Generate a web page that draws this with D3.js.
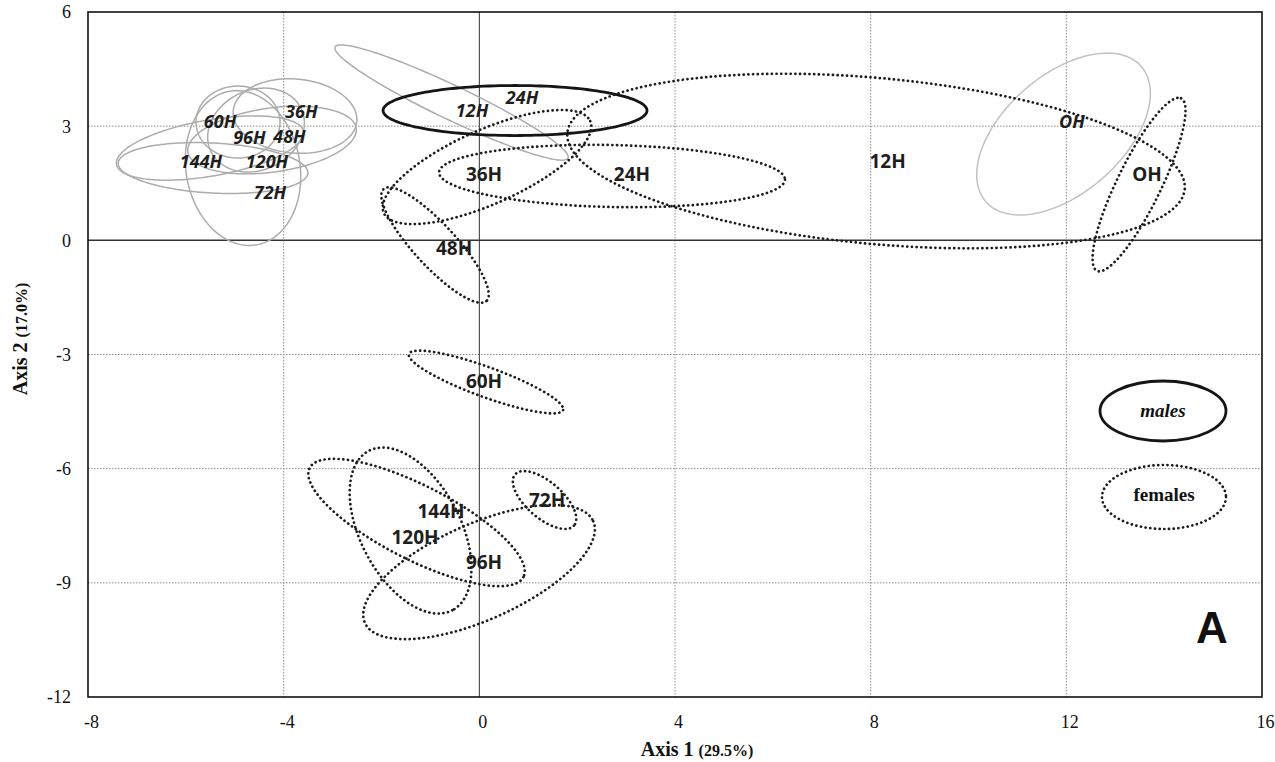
<!DOCTYPE html>
<html>
<head>
<meta charset="utf-8">
<script src="https://cdn.jsdelivr.net/npm/d3@7"></script>
<style>
  body { margin: 0; background: #fff; }
  svg { display: block; }
</style>
</head>
<body>
<svg id="chart" width="1275" height="762"></svg>
<script>
// ---- Axis ticks ----
const xTicks = [-8, -4, 0, 4, 8, 12, 16];
const yTicks = [6, 3, 0, -3, -6, -9, -12];

// ---- Female confidence ellipses (Axis 1 / Axis 2 units) ----
// each ellipse = centre + U*cos(t) + V*sin(t)
const femaleGroups = ["OH", "12H", "24H", "36H", "48H", "60H", "72H", "96H", "120H", "144H"];
const femaleCx = [13.486, 8.110, 2.713, 0.157, -0.906, 0.137, 1.333, -0.006, -1.406, -1.284];
const femaleCy = [1.466, 2.084, 1.690, 1.926, -0.124, -3.723, -6.824, -8.716, -7.626, -7.415];
const femaleU = [[0.860, 2.267], [6.311, -0.738], [3.536, -0.095], [2.110, 1.208], [1.052, -1.470],
                 [1.575, -0.737], [0.602, -0.672], [2.334, 1.336], [0.855, -2.094], [2.186, -1.432]];
const femaleV = [[0.404, -0.253], [-0.154, -2.172], [-0.013, -0.814], [0.308, -0.888], [-0.316, -0.374],
                 [-0.105, -0.370], [-0.241, -0.357], [0.399, -1.152], [-0.905, -0.611], [-0.343, -0.866]];
// label anchor points
const femaleLabelX = [13.649, 8.345, 3.121, 0.096, -0.517, 0.096, 1.384, 0.096, -1.315, -0.783];
const femaleLabelY = [1.742, 2.084, 1.742, 1.742, -0.202, -3.697, -6.824, -8.453, -7.796, -7.113];

// ---- Male confidence ellipses ----
const maleGroups = ["OH", "12H", "24H", "36H", "48H", "60H", "96H", "144H", "120H", "72H"];
const maleCx = [11.943, -0.568, 0.730, -3.768, -4.238, -4.933, -4.565, -5.505, -5.444, -4.831];
const maleCy = [2.793, 3.621, 3.411, 3.266, 2.636, 3.109, 2.898, 2.425, 1.900, 1.900];
const maleU = [[1.589, 1.776], [2.380, -1.459], [2.698, 0], [1.263, -0.142], [1.721, 0.311],
               [0.859, 0], [0.926, 0.555], [1.913, 0.433], [1.939, -0.131], [0.277, -2.018]];
const maleV = [[0.791, -1.170], [-0.150, -0.403], [0, -0.657], [-0.066, -0.969], [0.091, -0.833],
               [0, -0.946], [0.346, -0.953], [0.099, -0.725], [-0.027, -0.656], [-1.147, -0.260]];
// the highlighted male group (drawn solid black)
const maleHighlight = ["24H"];
const maleLabelX = [12.116, -0.149, 0.873, -3.639, -3.881, -5.300, -4.700, -5.689, -4.340, -4.279];
const maleLabelY = [3.109, 3.424, 3.765, 3.397, 2.739, 3.110, 2.700, 2.084, 2.084, 1.269];

// ---- Layout ----
const svg = d3.select("#chart");
const plotL = 88, plotT = 12, plotR = 1262, plotB = 697;

const x = d3.scaleLinear().domain([-8, 16]).range([plotL, plotR]);
const y = d3.scaleLinear().domain([-12, 6]).range([plotB, plotT]);

const serif = "'Liberation Serif', 'Times New Roman', serif";
const sans = "'Noto Sans', 'DejaVu Sans', sans-serif";

// grid lines (dotted)
const grid = svg.append("g");
grid.selectAll("line.gx")
  .data(xTicks.filter(d => d !== 0 && d !== -8 && d !== 16))
  .join("line")
  .attr("x1", d => x(d)).attr("x2", d => x(d))
  .attr("y1", plotT).attr("y2", plotB)
  .attr("stroke", "#8c8c8c").attr("stroke-width", 1)
  .attr("stroke-dasharray", "1.5,1.5");
grid.selectAll("line.gy")
  .data(yTicks.filter(d => d !== 0 && d !== 6 && d !== -12))
  .join("line")
  .attr("x1", plotL).attr("x2", plotR)
  .attr("y1", d => y(d)).attr("y2", d => y(d))
  .attr("stroke", "#8c8c8c").attr("stroke-width", 1)
  .attr("stroke-dasharray", "1.5,1.5");

// zero lines
svg.append("line")
  .attr("x1", x(0)).attr("x2", x(0)).attr("y1", plotT).attr("y2", plotB)
  .attr("stroke", "#333").attr("stroke-width", 1);
svg.append("line")
  .attr("x1", plotL).attr("x2", plotR).attr("y1", y(0)).attr("y2", y(0))
  .attr("stroke", "#333").attr("stroke-width", 1.5);

// axes (labels only, no tick marks; plain hyphen for negatives)
const tickText = d => String(d);
const xAxis = d3.axisBottom(x).tickValues(xTicks).tickSize(0).tickPadding(0).tickFormat(tickText);
const gx = svg.append("g").attr("transform", `translate(0,${plotB})`).call(xAxis)
  .attr("font-family", serif).attr("font-size", 18);
gx.select(".domain").remove();
gx.selectAll("text")
  .attr("font-family", serif).attr("font-size", 18).attr("fill", "#111")
  .attr("dy", null).attr("y", 31).attr("dx", 3);

const yAxis = d3.axisLeft(y).tickValues(yTicks).tickSize(0).tickPadding(0).tickFormat(tickText);
const gy = svg.append("g").attr("transform", `translate(${plotL},0)`).call(yAxis)
  .attr("font-family", serif).attr("font-size", 18);
gy.select(".domain").remove();
gy.selectAll("text")
  .attr("font-family", serif).attr("font-size", 18).attr("fill", "#111")
  .attr("x", -17).attr("dy", "0.33em");

// plot frame
svg.append("rect")
  .attr("x", plotL).attr("y", plotT)
  .attr("width", plotR - plotL).attr("height", plotB - plotT)
  .attr("fill", "none").attr("stroke", "#111").attr("stroke-width", 1.6);

// ellipse outline generator
const line = d3.line().curve(d3.curveLinearClosed);
const steps = d3.range(0, 160);
function ellipsePath(cx, cy, u, v) {
  return line(steps.map(i => {
    const t = i / steps.length * 2 * Math.PI;
    const c = Math.cos(t), s = Math.sin(t);
    return [x(cx + u[0] * c + v[0] * s), y(cy + u[1] * c + v[1] * s)];
  }));
}

// male ellipses: grey, one highlighted in solid black
const males = svg.append("g");
maleGroups.forEach((g, i) => {
  const hl = maleHighlight.includes(g);
  males.append("path")
    .attr("d", ellipsePath(maleCx[i], maleCy[i], maleU[i], maleV[i]))
    .attr("fill", "none")
    .attr("stroke", hl ? "#151515" : (g === "OH" ? "#c2c2c2" : "#acacac"))
    .attr("stroke-width", hl ? 2.8 : 1.5);
});

// female ellipses: dotted black
const females = svg.append("g");
femaleGroups.forEach((g, i) => {
  females.append("path")
    .attr("d", ellipsePath(femaleCx[i], femaleCy[i], femaleU[i], femaleV[i]))
    .attr("fill", "none")
    .attr("stroke", "#1c1c1c")
    .attr("stroke-width", 2.7)
    .attr("stroke-linecap", "round")
    .attr("stroke-dasharray", "0.1,4.6");
});

// group labels
svg.append("g").selectAll("text")
  .data(maleGroups)
  .join("text")
  .attr("x", (d, i) => x(maleLabelX[i]))
  .attr("y", (d, i) => y(maleLabelY[i]))
  .attr("dy", "0.36em")
  .attr("text-anchor", "middle")
  .attr("font-family", sans).attr("font-weight", "bold").attr("font-style", "italic")
  .attr("font-size", 18).attr("fill", "#1e1e1e")
  .text(d => d);

svg.append("g").selectAll("text")
  .data(femaleGroups)
  .join("text")
  .attr("x", (d, i) => x(femaleLabelX[i]))
  .attr("y", (d, i) => y(femaleLabelY[i]))
  .attr("dy", "0.36em")
  .attr("text-anchor", "middle")
  .attr("font-family", sans).attr("font-weight", "bold")
  .attr("font-size", 19).attr("fill", "#1e1e1e")
  .text(d => d);

// legend
const legend = svg.append("g");
legend.append("ellipse")
  .attr("cx", 1163).attr("cy", 411).attr("rx", 63).attr("ry", 30)
  .attr("fill", "none").attr("stroke", "#151515").attr("stroke-width", 2.8);
legend.append("text")
  .attr("x", 1163).attr("y", 411).attr("dy", "0.3em").attr("text-anchor", "middle")
  .attr("font-family", serif).attr("font-style", "italic").attr("font-weight", "bold")
  .attr("font-size", 19).attr("fill", "#111")
  .text("males");
legend.append("ellipse")
  .attr("cx", 1164).attr("cy", 497).attr("rx", 62).attr("ry", 32)
  .attr("fill", "none").attr("stroke", "#1c1c1c").attr("stroke-width", 2.7)
  .attr("stroke-linecap", "round").attr("stroke-dasharray", "0.1,4.6");
legend.append("text")
  .attr("x", 1164).attr("y", 495).attr("dy", "0.3em").attr("text-anchor", "middle")
  .attr("font-family", serif).attr("font-weight", "bold").attr("font-size", 19).attr("fill", "#111")
  .text("females");

// panel letter
svg.append("text")
  .attr("x", 1212).attr("y", 643).attr("text-anchor", "middle")
  .attr("font-family", "'Liberation Sans', Arial, sans-serif").attr("font-weight", "bold")
  .attr("font-size", 44).attr("fill", "#111")
  .text("A");

// axis titles
const xt = svg.append("text")
  .attr("x", 697).attr("y", 756).attr("text-anchor", "middle")
  .attr("font-family", serif).attr("font-weight", "bold").attr("fill", "#111");
xt.append("tspan").attr("font-size", 20).text("Axis 1 ");
xt.append("tspan").attr("font-size", 16).text("(29.5%)");

const yt = svg.append("text")
  .attr("transform", "translate(27,339) rotate(-90)").attr("text-anchor", "middle")
  .attr("font-family", serif).attr("font-weight", "bold").attr("fill", "#111");
yt.append("tspan").attr("font-size", 20).text("Axis 2 ");
yt.append("tspan").attr("font-size", 16).text("(17.0%)");
</script>
</body>
</html>
